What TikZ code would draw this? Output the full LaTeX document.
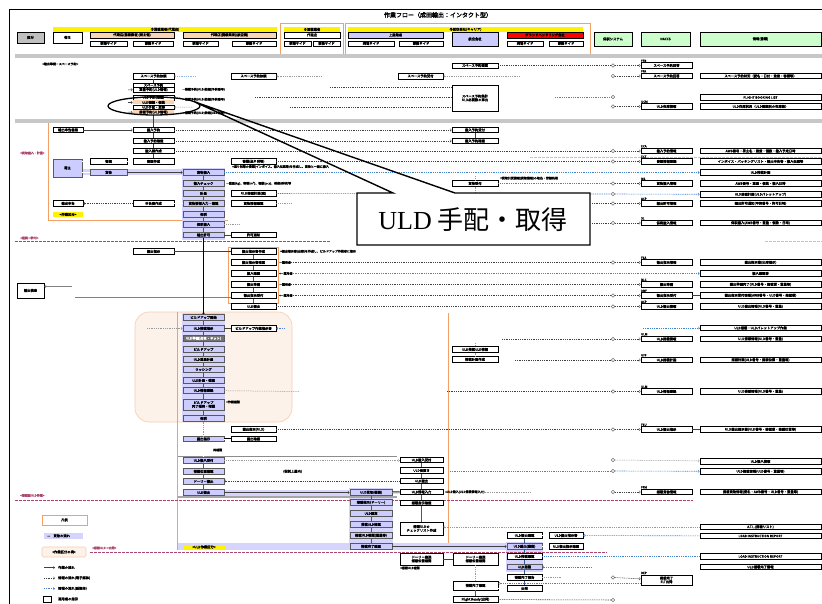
\documentclass[tikz,border=0pt]{standalone}
\usepackage{fontspec}
\setmainfont{Noto Sans CJK JP}[AutoFakeBold=2]
\newfontfamily\serifA{Liberation Serif}
\usetikzlibrary{arrows.meta}
\definecolor{lav}{RGB}{204,204,255}
\definecolor{lavb}{RGB}{212,212,252}
\definecolor{salm}{RGB}{251,212,180}
\definecolor{peachf}{RGB}{253,242,233}
\definecolor{peachb}{RGB}{248,203,173}
\definecolor{orangec}{RGB}{242,160,100}
\definecolor{hgray}{RGB}{192,192,192}
\definecolor{redc}{RGB}{255,0,0}
\definecolor{grn}{RGB}{204,255,204}
\definecolor{blueA}{RGB}{70,130,210}
\definecolor{pinkA}{RGB}{170,70,110}
\definecolor{pinkB}{RGB}{235,175,195}
\newcommand\fsA{\fontsize{3.3}{3.7}\selectfont\bfseries}
\newcommand\fsB{\fontsize{3}{3.3}\selectfont\bfseries}
\newcommand\BX[7][]{%
  \pgfmathsetmacro\bxX{(#3+#5)/2}%
  \pgfmathsetmacro\bxY{(#4+#6)/2}%
  \pgfmathsetmacro\bxW{#5-#3}%
  \pgfmathsetmacro\bxH{#6-#4}%
  \node[bx,minimum width=\bxW pt,minimum height=\bxH pt,#1] (#2) at (\bxX,\bxY) {#7};}
\newcommand\RB[6][]{%
  \pgfmathsetmacro\rbA{#5-2.6}\pgfmathsetmacro\rbB{#5+2.6}%
  \BX[#1]{#2}{#3}{\rbA}{#4}{\rbB}{#6}}
\newcommand\NIrow[5]{%
  \node[cir] (ci#1) at (613,#2) {};
  \RB{n#1}{641}{692}{#2}{#4}
  \node[lab,anchor=south west] at (n#1.north west) {#3};
  \if\relax\detokenize{#5}\relax\else\RB{i#1}{700}{821}{#2}{#5}\fi
  \draw[info,arr] (ci#1) -- (n#1);}
\tikzset{
 bx/.style={draw=black,line width=0.85pt,fill=white,inner sep=0pt,font=\fsA,align=center},
 lv/.style={fill=lav,draw=black!65},
 sm/.style={fill=salm},
 lab/.style={font=\fsB,inner sep=0.3pt},
 lbl/.style={font=\fsB,inner sep=0pt,anchor=west},
 info/.style={line width=0.55pt,black!75,dash pattern=on 1pt off 0.8pt},
 infol/.style={line width=0.5pt,black!40,dash pattern=on 1pt off 0.8pt},
 infob/.style={line width=0.6pt,blueA,dash pattern=on 1pt off 0.8pt},
 flow/.style={line width=0.5pt,black!75},
 arr/.style={-{Straight Barb[length=1.3pt,width=2.6pt,line width=0.4pt]}},
 eq/.style={double=white,double distance=0.9pt,line width=0.35pt,black},
 pk/.style={pinkA,line width=0.7pt,dash pattern=on 2.5pt off 1.5pt},
 pkl/.style={pinkB,line width=0.6pt,dash pattern=on 2.5pt off 1.5pt},
 cir/.style={circle,draw=black!55,line width=0.45pt,minimum size=3.4pt,inner sep=0pt},
 colline/.style={line width=0.5pt,blueA!70!black},
}
\begin{document}
\begin{tikzpicture}[x=1pt,y=-1pt]
\useasboundingbox (0,0) rectangle (822,604);
\fill[white] (0,0) rectangle (822,604);
% frame and title
\coordinate (fr1) at (9,604); \coordinate (fr2) at (9,9); \coordinate (fr3) at (822,9);
\draw[line width=0.6pt] (fr1) -- (fr2) -- (fr3);
\node[font=\fontsize{6}{7}\selectfont\bfseries,inner sep=0] (title) at (438,15) {作業フロー（成田輸出：インタクト型）};
% header
\BX[fill=hgray,line width=0.9pt]{h0}{17}{32}{44}{43}{区分}
\BX[fill=yellow,draw=none]{y1}{53}{27}{277}{32}{①混載業者(代理店)}
\BX[line width=0.9pt]{h1}{53}{32}{82}{43}{荷主}
\BX[sm]{h2}{90}{32}{174}{38}{代理店(混載業者)(荷主側)}
\BX[sm]{h3}{183}{32}{276}{38}{代理店(混載業者)(航空側)}
\BX{h2a}{90}{41}{127}{46}{現場サイド}
\BX{h2b}{133}{41}{173}{46}{事務サイド}
\BX{h3a}{183}{41}{218}{46}{現場サイド}
\BX{h3b}{232}{41}{276}{46}{事務サイド}
\draw[orangec,line width=0.8pt] (280,23) rectangle (343,54);
\BX[fill=yellow,draw=none]{y2}{284}{27}{340}{32}{②混載業者}
\BX{h4}{284}{32}{340}{38}{代理店}
\BX{h4a}{284}{41}{311}{46}{現場サイド}
\BX{h4b}{313}{41}{340}{46}{事務サイド}
\draw[orangec,line width=0.8pt] (345,23) rectangle (590,54);
\BX[fill=yellow,draw=none]{y3}{348}{27}{583}{32}{③航空会社(キャリア)}
\BX[fill=lav]{h5}{348}{32}{443}{38}{上屋業者}
\BX{h5a}{348}{41}{394}{46}{現場サイド}
\BX{h5b}{399}{41}{443}{46}{事務サイド}
\BX[fill=lav]{h6}{452}{32}{498}{46}{航空会社}
\BX[fill=redc]{h7}{507}{32}{583}{38}{グランドハンドリング会社}
\BX{h7a}{507}{41}{543}{46}{現場サイド}
\BX{h7b}{549}{41}{583}{46}{事務サイド}
\BX[fill=grn]{h8}{594}{32}{632}{46}{保税システム}
\BX[fill=grn]{h9}{641}{32}{690}{46}{NACCS}
\BX[fill=grn]{h10}{700}{32}{821}{46}{情報(書類)}
% bands and backgrounds
\fill[black!22] (15,54.5) rectangle (822,58.5);
\fill[black!22] (15,119.5) rectangle (822,123);
\draw[orangec,line width=0.8pt] (48,123) -- (48,220) -- (228,220);
\fill[lavb] (82,169.5) rectangle (183,175.5);
\fill[lavb] (182,168) rectangle (225,240.5);
\draw[peachb,fill=peachf,line width=0.6pt,rounded corners=14pt] (135,312) rectangle (292,422);
\fill[lavb] (182,313) rectangle (225,422);
\draw[orangec,line width=0.8pt] (177.5,312) -- (177.5,550);
\draw[orangec,line width=0.8pt] (448,313) -- (448,550);
\draw[orangec,line width=0.7pt] (228,247.5) rectangle (278.5,303.5);
\fill[lavb] (224,489.5) rectangle (350,496);
\fill[lavb] (349,488) rectangle (393,550);
\fill[lavb] (178,543) rectangle (507,549.5);
\fill[lavb] (506,542) rectangle (543,572);
\draw[black!45,line width=0.6pt] (178,456.7) -- (397,456.7);
\draw[black!35,line width=1.2pt] (178,497) -- (397,497);
\draw[pk] (15,241.5) -- (330,241.5);
\draw[pkl] (765,241.5) -- (822,241.5);
\draw[pkl] (530,157) -- (822,157);
\draw[pk] (15,500) -- (693,500);
\draw[pk] (90,552) -- (607,552);
\node[lbl,text=pinkA] (pt1) at (20,153) {<貨物搬入・計量>};
\node[lbl,text=pinkA] (pt2) at (20,238) {<通関→許可>};
\node[lbl,text=pinkA] (pt3) at (20,495.5) {<搭載前ULD作業>};
\node[lbl,text=pinkA] (pt4) at (92,548) {<搭載ULD→出発>};
% ---------------- section 1
\node[lbl] (t1) at (42,64) {<輸出準備－スペース予約>};
\BX{a1}{452}{63}{498}{68}{スペース予約確認}
\NIrow{A}{65.5}{FFR}{スペース予約回答}{}
\draw[info] (a1) -- (ciA);
\BX{a2}{133}{73}{174}{79}{スペース予約依頼}
\BX{a3}{231}{73}{276}{79}{スペース予約依頼}
\BX{a4}{398}{73}{443}{79}{スペース予約受付}
\coordinate (a2r) at (196,76); \draw[infob,blueA!60,arr] (a2r) -- (a2);
\coordinate (a3r) at (322,76); \draw[infol,arr] (a3r) -- (a3);
\coordinate (a4r) at (520,76); \draw[infol,arr] (a4r) -- (a4);
\NIrow{B}{76}{FFA}{スペース予約回答}{スペース予約状況（便名・日付・重量・容積等）}
\BX{a5}{133}{83}{174}{87.5}{スペース予約}
\BX[line width=0.9pt]{a6}{133}{87.5}{174}{92}{重量予約(ULD情報)}
\BX[line width=0.9pt]{a7}{133}{95}{174}{100}{ULD予約(搭載)}
\BX[sm,draw=none]{a8}{133}{100.5}{174}{104.5}{ULD種類・個数}
\BX{a9}{133}{105}{174}{109.5}{ULD手配・取得}
\BX[sm,draw=none]{a10}{133}{110}{174}{114.5}{搭載予約(ULD情報)}
\draw[flow] (a2) -- (a5);
\node[lbl] (t2) at (182,89.5) {—搭載予約(ULD)依頼(予約番号)};
\node[lbl] (t3) at (182,99.5) {—搭載予約(ULD)依頼(予約番号)};
\node[lbl] (t4) at (182,113) {—搭載予約(ULD)依頼(ULD種類)};
\coordinate (a7r) at (180,97.5); \draw[infol,arr] (a7r) -- (a7);
\coordinate (a9r) at (192,107.2); \draw[infol,arr] (a9r) -- (a9);
\coordinate (a6l) at (128,89.8); \draw[flow,arr] (a6l) -- (a6);
\coordinate (a8l) at (128,102.5); \draw[flow,arr] (a8l) -- (a8);
\coordinate (a10l) at (128,112.2); \draw[flow,arr] (a10l) -- (a10);
\BX[line width=0.9pt]{a11}{452}{85}{498}{111}{スペース予約集計\\ULD必要数の算出}
\coordinate (d1) at (330,87); \draw[info] (d1) -- (d1 -| a11.west);
\coordinate (d2) at (255,97.5); \draw[info] (d2) -- (d2 -| a11.west);
\coordinate (d3) at (290,107); \draw[info] (d3) -- (d3 -| a11.west);
\node[cir] (ciC) at (613,97) {};
\coordinate (d4) at (555,97); \draw[infob] (d4) -- (ciC);
\RB{iC}{700}{821}{97.5}{FLIGHT BOOKING LIST}
\NIrow{D}{106.5}{UCM}{ULD在庫情報}{ULD在庫状況（ULD種類別の在庫数）}
% ---------------- section 2
\RB{b1}{53}{83}{130}{輸出申告書類}
\RB{b2}{133}{174}{130}{搬入予約}
\RB{b3}{452}{498}{130}{搬入予約受付}
\RB{b4}{133}{174}{141}{搬入予約確認}
\RB{b5}{452}{498}{141}{搬入予約確認}
\RB{b6}{133}{174}{151}{搬入票作成}
\BX[lv]{b7}{53}{159}{82}{177}{荷主}
\RB{b8}{90}{127}{161.5}{書類}
\RB{b9}{133}{174}{161.5}{書類作成}
\RB{b10}{231}{276}{161.5}{書類(送り状等)}
\RB[lv]{b11}{90}{127}{172.5}{貨物}
\RB[lv]{l1}{183}{224}{172.5}{貨物搬入}
\RB[lv]{l2}{183}{224}{183.5}{搬入チェック}
\RB[lv]{l3}{183}{224}{193.5}{計量}
\RB[lv]{l4}{183}{224}{203.5}{貨物情報入力・確認}
\RB[lv]{l5}{183}{224}{214.5}{保税}
\RB[lv]{l6}{183}{224}{224.5}{保税搬入}
\RB[lv]{l7}{183}{224}{235}{輸出許可}
\foreach \pa/\pb in {l1/l2,l2/l3,l3/l4,l4/l5,l5/l6,l6/l7} \draw[colline] (\pa) -- (\pb);
\draw[flow,arr] (b1) -- (b2);
\draw[info,arr] (b2) -- (b3);
\draw[info,arr] (b4) -- (b5);
\draw[flow] (b3) -- (b5);
\draw[flow] (a10) -- (b2);
\draw[flow] (b2) -- (b4);
\draw[flow] (b4) -- (b6);
\draw[flow] (b6) -- (b9);
\draw[eq] (b7.east |- b8) -- (b8);
\draw[eq] (b8) -- (b9);
\draw[eq] (b7.east |- b11) -- (b11);
\draw[flow,arr] (b11) -- (l1);
\node[lbl] (t5) at (232,166.8) {=送り状等の書類(インボイス、搬入伝票等)を作成し、貨物と一緒に搬入};
\node[lbl] (t6) at (226,183.5) {—重量(kg)、容積(m³)、個数(pcs)、荷姿(形状)等};
\RB{b12}{231}{276}{193.5}{ULD搭載計画(案)}
\RB{b13}{53}{83}{203.5}{輸出申告}
\RB{b14}{133}{174}{203.5}{申告書作成}
\RB{b15}{231}{276}{203.5}{貨物情報確認}
\draw[info,arr] (b14) -- (b13);
\draw[eq] (b14) -- (l4);
\coordinate (b15r) at (292,203.5); \draw[infol] (b15) -- (b15r);
\RB{b16}{231}{276}{235}{許可通知}
\draw[flow] (l7) -- (b16);
\coordinate (l6r) at (240,224.5); \draw[infol] (l6) -- (l6r);
\BX[fill=yellow,draw=none]{yk1}{53}{212}{83}{217}{<作業区分>}
\RB{b17}{452}{498}{183.5}{貨物受付}
\node[lbl] (t7) at (500,178.3) {=貨物引受情報(貨物情報)の取込・登録処理};
\coordinate (b17t) at (475,176); \draw[infol] (b17t) -- (b17);
\coordinate (b17b) at (475,192); \draw[infol] (b17) -- (b17b);
\NIrow{E}{151}{ECA}{搬入予約情報}{AWB番号・荷主名・重量・個数・搬入予定日時}
\draw[info] (b6) -- (ciE);
\NIrow{F}{161.5}{ECT}{書類情報登録}{インボイス・パッキングリスト・輸出申告書・搬入伝票等}
\draw[info] (b10) -- (ciF);
\RB{iG}{700}{821}{172.5}{ULD搭載計画}
\draw[infob,arr] (l1) -- (iG);
\NIrow{H}{183.5}{BIL}{貨物搬入情報}{AWB番号・重量・個数・搬入日時}
\draw[infob] (b17) -- (ciH);
\node[cir] (ciI) at (613,194) {};
\RB{iI}{700}{821}{194.5}{ULD搭載計画(ULDパレットアップ)}
\draw[infob] (b12) -- (ciI);
\draw[infob,arr] (ciI) -- (iI);
\NIrow{J}{203.5}{ACP}{輸出許可情報}{輸出許可通知(申告番号・許可日時)}
\coordinate (jl) at (592,203.5); \draw[info] (jl) -- (ciJ);
\NIrow{K}{223}{SL}{保税搬入情報}{保税搬入(AWB番号・重量・個数・日時)}
\coordinate (kl) at (592,223); \draw[info] (kl) -- (ciK);
% ---------------- section 3
\RB{s1}{133}{174}{251.5}{搬出指示}
\RB{s2}{231}{276}{251.5}{搬出指示書作成}
\draw[flow] (s1) -- (s2);
\node[lbl] (t8) at (280,251.5) {=搬出指示書(出庫)を作成し、ビルドアップ作業者に指示};
\RB{s3}{231}{276}{262.5}{搬出指示書確認}
\RB{s4}{231}{276}{273.5}{搬入確認}
\RB{s5}{231}{276}{284.5}{搬出準備}
\RB{s6}{231}{276}{295.5}{搬出指示受付}
\RB{s7}{231}{276}{306.5}{ULD搬出}
\foreach \pa/\pb in {s2/s3,s3/s4,s4/s5,s5/s6,s6/s7} \draw[colline] (\pa) -- (\pb);
\node[lbl] (k3) at (279,262.5) {—運用者};
\node[lbl] (k4) at (279,273.5) {<—運用者};
\node[lbl] (k5) at (279,284.5) {—運用者};
\node[lbl] (k6) at (279,295.5) {<—運用者};
\NIrow{L}{262.5}{FSA}{搬出指示情報}{搬出指示書(出庫指示)}
\draw[info] (k3) -- (ciL);
\RB{iM}{700}{821}{273.5}{搬入確認書}
\draw[infob,arr] (k4) -- (iM);
\RB{nN}{641}{692}{284.5}{搬出準備}
\node[lab,anchor=south west] at (nN.north west) {BLC};
\RB{iN}{700}{821}{284.5}{搬出準備完了(ULD番号・搭載便・重量等)}
\draw[info,arr] (k5) -- (nN);
\NIrow{O}{295.5}{DRF}{搬出指示受付}{搬出指示受付情報(AWB番号・ULD番号・搭載便)}
\draw[info] (k6) -- (ciO);
\draw[flow] (nO) -- (iO);
\NIrow{P}{306.5}{ACP}{ULD搬出情報}{ULD搬出情報(ULD番号・重量)}
\draw[info] (s7) -- (ciP);
\BX[line width=0.9pt]{s8}{17}{283}{44}{298}{輸出検査}
\coordinate (s8a) at (72,286.5); \draw[flow,black!50,arr] (s8a) -- (s8a -| s8.east);
\coordinate (s8b) at (75,297); \draw[black!50,line width=0.7pt] (s8b) -- (s8b -| s6.west);
\RB[lv]{u1}{183}{224}{317.5}{ビルドアップ開始}
\draw[line width=0.7pt,arr] (l7) -- (u1);
\RB[lv]{u2}{183}{224}{328.5}{ULD搭載指示}
\RB[fill=black!55,draw=black!65,text=white]{u3}{183}{224}{338.5}{ULD準備(台車・ネット)}
\RB[lv]{u4}{183}{224}{349.5}{ビルドアップ}
\RB[lv]{u5}{183}{224}{359.5}{ULD重量計量}
\RB[lv]{u6}{183}{224}{369.5}{ラッシング}
\RB[lv]{u7}{183}{224}{380.5}{ULD計量・確認}
\RB[lv]{u8}{183}{224}{390.5}{ULD情報登録}
\BX[lv]{u9}{183}{399}{224}{410}{ビルドアップ\\完了報告・確認}
\RB[lv]{u10}{183}{224}{418.5}{保税}
\foreach \pa/\pb in {u1/u2,u2/u3,u3/u4,u4/u5,u5/u6,u6/u7,u7/u8,u8/u9,u9/u10} \draw[colline] (\pa) -- (\pb);
\coordinate (u2l) at (147,328.5); \draw[infol,arr] (u2l) -- (u2);
\RB{u11}{231}{276}{328.5}{ビルドアップ作業指示書}
\draw[flow] (u2) -- (u11);
\coordinate (u11r) at (285,328.5); \draw[infob,arr] (u11r) -- (u11);
\coordinate (u8r) at (300,391.5); \draw[infol] (u8) -- (u8r);
\node[lbl] (t9) at (226,402) {=作業確認};
\RB{u12}{231}{276}{429.5}{搬出指示(ULD)}
\NIrow{Q}{429.5}{FSU}{ULD搬出指示}{ULD搬出指示書(ULD番号・搭載便・搭載位置等)}
\draw[info] (u12) -- (ciQ);
\draw[flow] (nQ) -- (iQ);
\RB{iR}{700}{821}{328}{ULD搭載・ULDパレットアップ作業}
\coordinate (rl) at (643,328); \draw[infob,arr] (rl) -- (iR);
\NIrow{S}{339}{ULM}{ULD搭載情報}{ULD搭載情報(ULD番号・重量)}
\coordinate (sl) at (502,339); \draw[info] (sl) -- (ciS);
\RB{w1}{452}{498}{349.5}{ULD搭載ULD情報}
\RB{w2}{452}{498}{359.5}{搭載計画作成}
\coordinate (w1t) at (475,343); \draw[infol] (w1t) -- (w1);
\draw[infol] (w1) -- (w2);
\NIrow{T}{360}{UFF}{ULD搭載計画}{搭載計画(ULD番号・搭載位置・重量等)}
\coordinate (tl) at (515,360); \draw[info] (tl) -- (ciT);
\NIrow{U}{391.5}{ULM}{ULD情報登録}{ULD搭載情報(ULD番号・重量)}
\coordinate (ul) at (447,391.5); \draw[info] (ul) -- (ciU);
% ---------------- section 4
\RB[lv]{v1}{183}{224}{439}{搬出指示}
\RB{v2}{231}{276}{439}{搬出確認}
\draw[eq] (v1) -- (v2);
\draw[infol] (u10) -- (v1);
\node[lbl] (t10) at (213,450) {再確認};
\RB[lv]{v3}{183}{224}{460.5}{ULD搬入受付}
\draw[double=white,double distance=1.1pt,line width=0.4pt] (v1) -- (v3);
\RB[lv]{v4}{183}{224}{471.5}{搭載位置確認}
\RB[lv]{v5}{183}{224}{481.5}{ドーリー搬出}
\RB[lv]{v6}{183}{224}{492.5}{ULD搬出}
\foreach \pa/\pb in {v3/v4,v4/v5,v5/v6} \draw[colline] (\pa) -- (\pb);
\node[lbl,font=\fsA] (t11) at (283,471.5) {(保税上屋内)};
\RB{x1}{400}{443}{460}{ULD搬入受付}
\RB{x2}{400}{443}{470.5}{ULD仮置き}
\RB{x3}{400}{443}{481}{ULD搬出}
\RB{x4}{400}{443}{492}{ULD情報入力}
\RB{x5}{400}{443}{503}{搭載指示確認}
\foreach \pa/\pb in {x1/x2,x2/x3,x3/x4,x4/x5} \draw[colline] (\pa) -- (\pb);
\draw[infol,arr] (v3.east) -- (v3.east -| x1.west);
\draw[info,arr] (x3.west) -- (x3.west -| v5.east);
\RB[lv]{z1}{350}{392}{492.5}{ULD受取(機側)}
\RB[lv]{z2}{350}{392}{502.5}{搭載指示(ドーリー)}
\RB[lv]{z3}{350}{392}{513.5}{ULD固定}
\RB[lv]{z4}{350}{392}{524.5}{搭載ULD確認}
\RB[lv]{z5}{350}{392}{535.5}{搭載ULD確認(重量等)}
\RB[lv]{z6}{350}{392}{546.5}{搭載完了確認}
\foreach \pa/\pb in {z1/z2,z2/z3,z3/z4,z4/z5,z5/z6} \draw[colline] (\pa) -- (\pb);
\draw[flow,arr] (v6) -- (z1);
\draw[eq] (z1) -- (x4);
\node[cir] (ciV) at (613,460) {};
\RB{iV}{700}{821}{461.5}{ULD搬入情報}
\draw[infol,arr] (ciV) -- (iV);
\node[cir] (ciW) at (613,471) {};
\RB{iW}{700}{821}{471.5}{ULD搭載情報(ULD番号・重量等)}
\coordinate (wl) at (450,471); \draw[infob] (wl) -- (ciW);
\draw[infob,arr] (ciW) -- (iW);
\node[lbl] (t12) at (445,492) {=ULD搬入(ULD搭載情報入力)};
\NIrow{X}{492}{FFM}{搭載貨物情報}{搭載貨物情報(便名・AWB番号・ULD番号・重量等)}
\coordinate (xl) at (530,492); \draw[infol] (t12) -- (xl);
\BX{x6}{400}{522}{443}{535}{搭載ULDの\\チェックリスト作成}
\draw[colline] (x5) -- (x6);
\RB{iY}{700}{821}{527}{A.T.L.(搭載リスト)}
\draw[infol,arr] (iY) -- (iY -| x6.east);
\RB{p1}{507}{542}{535.5}{ULD搬出確認}
\RB{p2}{549}{583}{535.5}{ULD搬出指示書}
\draw[eq] (p1) -- (p2);
\RB{iZ}{700}{821}{536}{LOAD INSTRUCTION REPORT}
\draw[infob,arr] (iZ) -- (p2);
\RB[lv]{p3}{507}{542}{546.5}{ULD搬出(機側)}
\RB{p4}{549}{583}{546.5}{ULD搬出指示確認}
\draw[eq] (p3) -- (p4);
\draw[flow,arr] (z6) -- (p3);
\BX{x7}{400}{553}{443}{565}{ドーリー搬送\\搭載位置確認}
\BX{x8}{453}{553}{498}{565}{ドーリー搬送\\搭載位置確認}
\draw[flow] (x7) -- (x8);
\node[lbl] (t13) at (400,568) {=搭載ULD確認};
\RB{p5}{507}{542}{556.5}{ULD搭載確認}
\RB{iAA}{700}{821}{556.5}{LOAD INSTRUCTION REPORT}
\draw[infob] (p5) -- (iAA);
\RB[lv]{p6}{507}{542}{567}{ULD搭載}
\RB{iAB}{700}{821}{567}{ULD搭載完了情報}
\coordinate (p6r) at (592,567); \draw[infob,arr] (p6r) -- (p6);
\RB{p7}{507}{542}{577.5}{搭載完了報告}
\coordinate (p7r) at (562,577.5); \draw[infol] (p7) -- (p7r);
\node[cir] (ciAC) at (613,577.5) {};
\BX{nAC}{641}{575}{692}{585}{搭載完了\\FLT出発}
\node[lab,anchor=south west] at (nAC.north west) {DEP};
\draw[info,arr] (ciAC) -- (nAC);
\BX{x9}{453}{581}{498}{590}{搭載完了確認}
\coordinate (acl) at (641,583.3); \draw[infob,arr] (acl) -- (acl -| x9.east);
\RB{p8}{507}{542}{588.5}{出発}
\draw[eq] (x9.east |- p8) -- (p8);
\RB{x10}{453}{498}{599.5}{Flight Ready(出発)}
\node[cir] (ciAD) at (613,600) {};
\draw[info] (x10) -- (ciAD);
\draw[infol] (x8) -- (x9);
\draw[colline] (x9) -- (x10);
\foreach \pa/\pb in {p1/p3,p3/p5,p5/p6,p6/p7,p7/p8} \draw[colline] (\pa) -- (\pb);
\BX[fill=yellow,draw=none]{yk2}{183}{544.5}{225}{549.5}{<ULD作業区分>}
% ---------------- legend
\BX[draw=orangec,line width=0.8pt]{g1}{42}{515}{87}{525}{凡例}
\fill[lavb] (44,533) rectangle (83,538.5);
\node[lbl,font=\fsA] (g2) at (47,535.8) {—　貨物の流れ};
\BX[fill=peachf,draw=peachb,line width=0.7pt,rounded corners=1.5pt]{g3}{42}{547}{86}{557}{<作業区分の境>}
\coordinate (lg1a) at (44,567.5); \coordinate (lg1b) at (55,567.5);
\draw[flow,arr] (lg1a) -- (lg1b); \node[lbl,font=\fsA] at (58,567.5) {作業の流れ};
\coordinate (lg2a) at (44,578); \coordinate (lg2b) at (55,578);
\draw[info,arr] (lg2a) -- (lg2b); \node[lbl,font=\fsA] at (58,578) {情報の流れ(電子媒体)};
\coordinate (lg3a) at (44,588.5); \coordinate (lg3b) at (55,588.5);
\draw[infob,arr] (lg3a) -- (lg3b); \node[lbl,font=\fsA] at (58,588.5) {情報の流れ(紙媒体)};
\BX[line width=0.6pt]{g4}{43}{596}{51}{602}{}
\node[lbl,font=\fsA] at (58,599) {運用者の指示};
% ---------------- ellipse and callout
\draw[line width=1.3pt] (154,106) ellipse [x radius=46pt, y radius=9pt];
\fill[white] (357,193) rectangle (590,245);
\coordinate (cq1) at (393,193); \coordinate (cq2) at (357,193); \coordinate (cq3) at (357,245);
\coordinate (cq4) at (590,245); \coordinate (cq5) at (590,193); \coordinate (cq6) at (455,193);
\coordinate (cq7) at (195,102);
\draw[line width=1.4pt,line join=miter] (cq1) -- (cq2) -- (cq3) -- (cq4) -- (cq5) -- (cq6) -- (cq7) -- cycle;
\node[inner sep=0] (co) at (473,220) {\fontsize{26}{28}\selectfont\mdseries{\serifA ULD} 手配・取得};
\end{tikzpicture}
\end{document}
